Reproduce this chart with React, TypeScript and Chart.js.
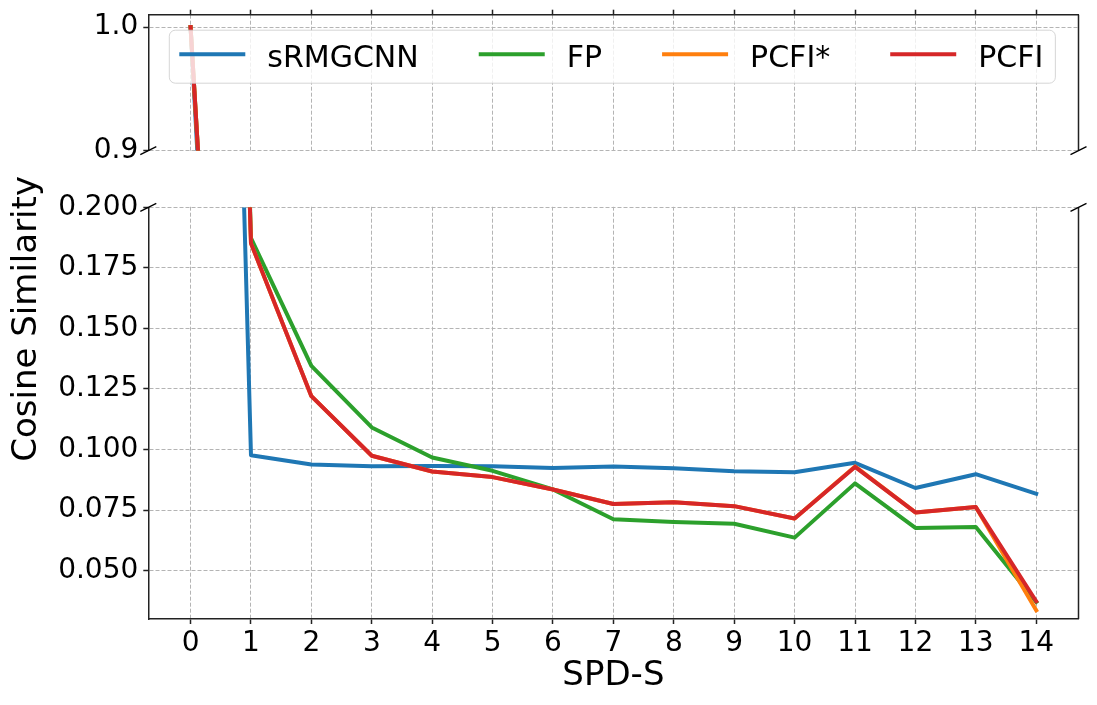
import { useEffect, useRef } from "react"
import { Chart, registerables } from "chart.js"

Chart.register(...registerables)

// SPD-S steps on the x axis
const steps = [0, 1, 2, 3, 4, 5, 6, 7, 8, 9, 10, 11, 12, 13, 14]

// cosine similarity per method
const srmgcnn = [1.0, 0.0976, 0.0938, 0.0931, 0.0932, 0.0931, 0.0924, 0.093, 0.0922, 0.091, 0.0906, 0.0945, 0.0841, 0.0898, 0.0817]
const fp = [1.0, 0.1873, 0.1345, 0.1091, 0.0967, 0.0912, 0.0835, 0.0712, 0.0701, 0.0693, 0.0636, 0.086, 0.0676, 0.068, 0.037]
const pcfiStar = [1.0, 0.1851, 0.122, 0.0974, 0.0909, 0.0886, 0.0835, 0.0775, 0.0782, 0.0766, 0.0715, 0.093, 0.074, 0.0762, 0.0336]
const pcfi = [1.0, 0.1851, 0.122, 0.0974, 0.0909, 0.0886, 0.0835, 0.0775, 0.0782, 0.0766, 0.0715, 0.0928, 0.074, 0.0762, 0.0373]

const topTicks = [0.9, 1.0]
const bottomTicks = [0.05, 0.075, 0.1, 0.125, 0.15, 0.175, 0.2]

const series = [
  { label: "sRMGCNN", data: srmgcnn, color: "#1f77b4" },
  { label: "FP", data: fp, color: "#2ca02c" },
  { label: "PCFI*", data: pcfiStar, color: "#ff7f0e" },
  { label: "PCFI", data: pcfi, color: "#d62728" },
]

const FONT = "'DejaVu Sans', sans-serif"
const SPINE = "#222"
const GRID = "#b4b4b4"

// fixed axis sizes so the plot area lands where the original had it
const fixWidth = (w: number) => (scale: any) => {
  scale.width = w
  scale.paddingTop = 0
  scale.paddingBottom = 0
  scale.paddingLeft = 0
  scale.paddingRight = 0
}
const fixHeight = (h: number) => (scale: any) => {
  scale.height = h
  scale.paddingTop = 0
  scale.paddingBottom = 0
  scale.paddingLeft = 0
  scale.paddingRight = 0
}
const setTicks = (values: number[]) => (scale: any) => {
  scale.ticks = values.map((v) => ({ value: v }))
}

const brokenAxis = {
  id: "brokenAxis",
  beforeDatasetsDraw(chart: any) {
    const { ctx, chartArea, scales } = chart
    // hide the x grid in the gap between the two panels
    ctx.save()
    ctx.fillStyle = "#fff"
    ctx.fillRect(chartArea.left, scales.yTop.bottom + 1, chartArea.right - chartArea.left + 1, scales.yBot.top - scales.yTop.bottom - 2)
    ctx.restore()
  },
  beforeDatasetDraw(chart: any, args: any) {
    const { ctx, chartArea } = chart
    const y = args.meta.yScale
    ctx.save()
    ctx.beginPath()
    ctx.rect(chartArea.left, y.top, chartArea.right - chartArea.left, y.bottom - y.top)
    ctx.clip()
  },
  afterDatasetDraw(chart: any) {
    chart.ctx.restore()
  },
  afterDatasetsDraw(chart: any) {
    const { ctx, chartArea } = chart
    ctx.save()
    ctx.font = `30px ${FONT}`
    const bx = chartArea.left + 21
    const by = chartArea.top + 15.5
    const bh = 53
    const lineLen = 66
    const textGap = 22
    const colGap = 60
    let total = 10
    series.forEach((s, i) => {
      total += lineLen + textGap + ctx.measureText(s.label).width
      if (i < series.length - 1) total += colGap
    })
    total += 12
    ctx.beginPath()
    ctx.roundRect(bx, by, total, bh, 6)
    ctx.fillStyle = "rgba(255,255,255,0.8)"
    ctx.fill()
    ctx.strokeStyle = "rgba(204,204,204,0.8)"
    ctx.lineWidth = 1
    ctx.stroke()
    let x = bx + 10
    series.forEach((s) => {
      ctx.beginPath()
      ctx.moveTo(x, by + 24)
      ctx.lineTo(x + lineLen, by + 24)
      ctx.strokeStyle = s.color
      ctx.lineWidth = 4
      ctx.stroke()
      x += lineLen + textGap
      ctx.fillStyle = "#000"
      ctx.textBaseline = "alphabetic"
      ctx.textAlign = "left"
      ctx.fillText(s.label, x, by + 37)
      x += ctx.measureText(s.label).width + colGap
    })
    ctx.restore()
  },
  afterDraw(chart: any) {
    const { ctx, chartArea, scales } = chart
    const top = scales.yTop
    const bot = scales.yBot
    ctx.save()
    ctx.strokeStyle = SPINE
    ctx.lineWidth = 1.5
    // right spine, split at the break
    ctx.beginPath()
    ctx.moveTo(chartArea.right, top.top)
    ctx.lineTo(chartArea.right, top.bottom)
    ctx.moveTo(chartArea.right, bot.top)
    ctx.lineTo(chartArea.right, bot.bottom)
    ctx.stroke()
    // break marks
    ctx.strokeStyle = "#000"
    ctx.lineWidth = 1.3
    ctx.beginPath()
    for (const bx of [chartArea.left, chartArea.right]) {
      for (const yy of [top.bottom, bot.top]) {
        ctx.moveTo(bx - 8, yy + 4)
        ctx.lineTo(bx + 8, yy - 4)
      }
    }
    ctx.stroke()
    // shared y title
    ctx.translate(27, (chartArea.top + chartArea.bottom) / 2 + 2)
    ctx.rotate(-Math.PI / 2)
    ctx.font = `34px ${FONT}`
    ctx.fillStyle = "#000"
    ctx.textAlign = "center"
    ctx.textBaseline = "middle"
    ctx.fillText("Cosine Similarity", 0, 0)
    ctx.restore()
  },
}

export default function App() {
  const chartRef = useRef<HTMLCanvasElement>(null)
  const chartInstance = useRef<Chart | null>(null)

  useEffect(() => {
    if (!chartRef.current) return
    if (chartInstance.current) {
      chartInstance.current.destroy()
    }
    const ctx = chartRef.current.getContext("2d")
    if (!ctx) return

    const datasets: any[] = []
    for (const axis of ["yTop", "yBot"]) {
      series.forEach((s, i) => {
        datasets.push({
          label: s.label,
          data: steps.map((x, k) => ({ x, y: s.data[k] })),
          yAxisID: axis,
          xAxisID: "x",
          borderColor: s.color,
          backgroundColor: s.color,
          borderWidth: 4,
          borderCapStyle: "square",
          borderJoinStyle: "round",
          pointRadius: 0,
          tension: 0,
          order: series.length - i,
          clip: 0,
        })
      })
    }

    const tickFont = { family: FONT, size: 28 }

    chartInstance.current = new Chart(ctx, {
      type: "line",
      data: { datasets },
      plugins: [brokenAxis],
      options: {
        animation: false,
        responsive: true,
        maintainAspectRatio: false,
        layout: { padding: { left: 0, right: 18.5, top: 0, bottom: 0 } },
        plugins: {
          legend: { display: false },
          tooltip: { enabled: false },
        },
        scales: {
          x: {
            type: "linear",
            position: "bottom",
            min: -0.7,
            max: 14.7,
            afterBuildTicks: setTicks(steps),
            afterFit: fixHeight(86),
            ticks: { font: tickFont, color: "#000", padding: 3, callback: (v: any) => String(v) },
            grid: { color: GRID, lineWidth: 1, tickLength: 5, tickColor: SPINE, tickWidth: 1.5 },
            border: { color: SPINE, width: 1.5, dash: [4, 2] },
            title: {
              display: true,
              text: "SPD-S",
              color: "#000",
              font: { family: FONT, size: 34, lineHeight: 1 },
              padding: { top: 0, bottom: 12 },
            },
          },
          x2: {
            type: "linear",
            position: "top",
            min: -0.7,
            max: 14.7,
            afterBuildTicks: setTicks(steps),
            afterFit: fixHeight(14.7),
            ticks: { display: false },
            grid: { drawOnChartArea: false, tickLength: 5, tickColor: SPINE, tickWidth: 1.5 },
            border: { color: SPINE, width: 1.5 },
          },
          yTop: {
            type: "linear",
            position: "left",
            stack: "broken",
            stackWeight: 136,
            weight: 3,
            min: 0.9,
            max: 1.01,
            afterBuildTicks: setTicks(topTicks),
            afterFit: fixWidth(148.3),
            ticks: { font: tickFont, color: "#000", padding: 5, callback: (v: any) => Number(v).toFixed(1) },
            grid: { color: GRID, lineWidth: 1, tickLength: 5, tickColor: SPINE, tickWidth: 1.5 },
            border: { color: SPINE, width: 1.5, dash: [4, 2] },
          },
          yGap: {
            type: "linear",
            position: "left",
            stack: "broken",
            stackWeight: 56.6,
            weight: 2,
            min: 0,
            max: 1,
            afterFit: fixWidth(148.3),
            ticks: { display: false },
            grid: { display: false },
            border: { display: false },
          },
          yBot: {
            type: "linear",
            position: "left",
            stack: "broken",
            stackWeight: 411.7,
            weight: 1,
            min: 0.03,
            max: 0.2,
            afterBuildTicks: setTicks(bottomTicks),
            afterFit: fixWidth(148.3),
            ticks: { font: tickFont, color: "#000", padding: 5, callback: (v: any) => Number(v).toFixed(3) },
            grid: { color: GRID, lineWidth: 1, tickLength: 5, tickColor: SPINE, tickWidth: 1.5 },
            border: { color: SPINE, width: 1.5, dash: [4, 2] },
          },
        },
      } as any,
    })

    return () => {
      if (chartInstance.current) {
        chartInstance.current.destroy()
        chartInstance.current = null
      }
    }
  }, [])

  return (
    <div style={{ position: "absolute", left: 0, top: 0, width: 1097, height: 705, background: "#fff" }}>
      <canvas ref={chartRef}></canvas>
    </div>
  )
}
